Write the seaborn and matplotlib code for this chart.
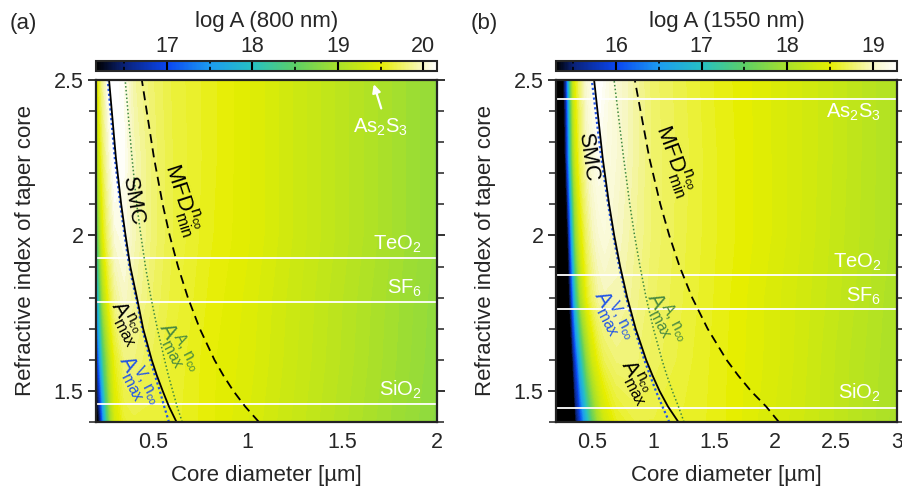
import numpy as np
import matplotlib
matplotlib.use("Agg")
import matplotlib.pyplot as plt
import seaborn as sns
from matplotlib.colors import LinearSegmentedColormap, Normalize
from matplotlib.cm import ScalarMappable
from matplotlib.ticker import MultipleLocator, FormatStrFormatter

sns.set_theme(style="ticks")
plt.rcParams['font.family'] = ['Liberation Sans', 'DejaVu Sans']
plt.rcParams['mathtext.fontset'] = 'custom'
plt.rcParams['mathtext.rm'] = 'Liberation Sans'
plt.rcParams['mathtext.it'] = 'Liberation Sans'
plt.rcParams['mathtext.bf'] = 'Liberation Sans'
plt.rcParams['mathtext.default'] = 'regular'

# ---------------- data ----------------
# refractive index rows at which log A was read
n_rows = [1.4, 1.6, 1.8, 2.0, 2.25, 2.5]

# (a) 800 nm
d_800 = [0.2, 0.21, 0.22, 0.23, 0.24, 0.26, 0.28, 0.3, 0.35, 0.4, 0.5, 0.6, 0.8, 1.0, 1.25, 1.5, 1.75, 2.0]
loga_800_n140 = [15.9, 16.1, 16.4, 16.9, 17.5, 18.4, 19.0, 19.35, 19.6, 19.65, 19.65, 19.6, 19.5, 19.4, 19.25, 19.1, 18.95, 18.8]
loga_800_n160 = [16.6, 17.0, 17.5, 18.0, 18.4, 18.9, 19.3, 19.55, 19.8, 19.8, 19.7, 19.62, 19.5, 19.42, 19.27, 19.12, 18.97, 18.82]
loga_800_n180 = [17.4, 17.9, 18.4, 18.8, 19.1, 19.45, 19.7, 19.85, 20.0, 19.9, 19.75, 19.65, 19.52, 19.43, 19.28, 19.13, 18.98, 18.83]
loga_800_n200 = [18.0, 18.6, 19.0, 19.3, 19.5, 19.75, 19.9, 20.05, 20.1, 19.95, 19.78, 19.67, 19.54, 19.45, 19.3, 19.15, 19.0, 18.85]
loga_800_n225 = [18.7, 19.1, 19.4, 19.6, 19.75, 19.95, 20.1, 20.2, 20.12, 19.95, 19.78, 19.67, 19.55, 19.45, 19.3, 19.15, 19.0, 18.85]
loga_800_n250 = [19.3, 19.5, 19.65, 19.8, 19.9, 20.1, 20.2, 20.2, 20.1, 19.9, 19.76, 19.66, 19.55, 19.45, 19.3, 19.15, 19.0, 18.85]

# (b) 1550 nm
d_1550 = [0.2, 0.26, 0.28, 0.3, 0.32, 0.34, 0.36, 0.4, 0.45, 0.5, 0.55, 0.6, 0.7, 0.85, 1.0, 1.25, 1.5, 2.0, 2.5, 3.0]
loga_1550_n140 = [14.0, 14.3, 14.5, 14.7, 14.9, 15.1, 15.3, 15.9, 16.8, 17.5, 18.0, 18.3, 18.55, 18.65, 18.65, 18.6, 18.55, 18.38, 18.2, 18.0]
loga_1550_n160 = [14.2, 14.6, 14.8, 15.0, 15.2, 15.4, 15.9, 16.9, 17.8, 18.3, 18.55, 18.7, 18.8, 18.8, 18.72, 18.63, 18.55, 18.4, 18.2, 18.02]
loga_1550_n180 = [14.4, 14.8, 15.0, 15.2, 15.5, 16.3, 17.1, 18.0, 18.5, 18.75, 18.9, 18.95, 18.95, 18.85, 18.75, 18.65, 18.56, 18.4, 18.22, 18.03]
loga_1550_n200 = [14.6, 15.0, 15.2, 15.4, 16.2, 17.1, 17.8, 18.4, 18.75, 18.95, 19.05, 19.1, 19.0, 18.88, 18.77, 18.66, 18.57, 18.42, 18.23, 18.05]
loga_1550_n225 = [14.8, 15.2, 15.4, 16.2, 17.2, 17.9, 18.3, 18.7, 18.95, 19.1, 19.2, 19.15, 19.05, 18.9, 18.77, 18.67, 18.57, 18.42, 18.24, 18.05]
loga_1550_n250 = [15.0, 15.3, 15.6, 16.6, 17.6, 18.2, 18.5, 18.8, 19.05, 19.2, 19.3, 19.2, 19.05, 18.9, 18.76, 18.66, 18.56, 18.42, 18.24, 18.05]

# curves: core diameter at given refractive index
n_curve = [1.4, 1.45, 1.5, 1.55, 1.6, 1.7, 1.8, 1.9, 2.0, 2.1, 2.25, 2.5]
smc_800 = [0.625, 0.585, 0.552, 0.521, 0.494, 0.449, 0.416, 0.381, 0.356, 0.333, 0.305, 0.269]
amax_v_800 = [0.585, 0.56, 0.537, 0.511, 0.486, 0.444, 0.411, 0.376, 0.351, 0.328, 0.299, 0.262]
amax_a_800 = [0.655, 0.628, 0.605, 0.582, 0.562, 0.524, 0.49, 0.461, 0.437, 0.415, 0.39, 0.354]
mfd_800 = [1.06, 0.987, 0.925, 0.872, 0.825, 0.748, 0.685, 0.633, 0.589, 0.552, 0.506, 0.442]

smc_1550 = [1.205, 1.119, 1.05, 0.992, 0.94, 0.854, 0.785, 0.727, 0.678, 0.636, 0.583, 0.513]
amax_v_1550 = [1.13, 1.074, 1.02, 0.972, 0.925, 0.844, 0.777, 0.719, 0.67, 0.628, 0.571, 0.494]
amax_a_1550 = [1.251, 1.205, 1.155, 1.11, 1.07, 1.0, 0.94, 0.89, 0.845, 0.806, 0.755, 0.677]
mfd_1550 = [2.03, 1.925, 1.80, 1.695, 1.60, 1.445, 1.318, 1.215, 1.13, 1.057, 0.966, 0.847]

# material refractive indices (white lines)
materials = ['As$_2$S$_3$', 'TeO$_2$', 'SF$_6$', 'SiO$_2$']
n_mat_800 = [2.62, 1.927, 1.787, 1.458]
n_mat_1550 = [2.438, 1.872, 1.763, 1.446]

# colour scale
cb_levels_800 = [16.17, 16.5, 17, 17.5, 18, 18.5, 19, 19.5, 20, 20.16]
cb_levels_1550 = [15.3, 15.5, 16, 16.5, 17, 17.5, 18, 18.5, 19, 19.28]
cb_colors = ['#000000', '#0a2278', '#0a46f0', '#1c9cf0', '#26c0c4', '#5ccf66',
             '#a8e02a', '#e6ee00', '#f7f7c4', '#ffffff']
cb_ticks_800 = [17, 18, 19, 20]
cb_ticks_1550 = [16, 17, 18, 19]

W, H = 902, 487
FS = 15.5
fig = plt.figure(figsize=(W / 100, H / 100), dpi=100)


def make_cmap(levels):
    lo, hi = levels[0], levels[-1]
    pos = [(v - lo) / (hi - lo) for v in levels]
    cmap = LinearSegmentedColormap.from_list('la', list(zip(pos, cb_colors)))
    cmap.set_under('#000000')
    cmap.set_over('#ffffff')
    return cmap


def panel(left_px, d, rows, levels, ticks, title, xmax, xticks,
          smc, av, aa, mfd, n_mat, txt):
    ax = fig.add_axes([left_px / W, (H - 422) / H, 341 / W, 342 / H])
    cax = fig.add_axes([left_px / W, (H - 71) / H, 341 / W, 10 / H])
    cmap = make_cmap(levels)
    lo, hi = levels[0], levels[-1]

    Z = np.array(rows)
    ax.contourf(d, n_rows, Z, levels=np.linspace(lo, hi, 90), cmap=cmap, extend='both')

    for nm in n_mat:
        ax.axhline(nm, color='white', lw=1.3)

    sns.lineplot(x=av, y=n_curve, sort=False, estimator=None, ax=ax,
                 color='#2255e6', lw=1.6, linestyle=(0, (1, 1.2)))
    sns.lineplot(x=smc, y=n_curve, sort=False, estimator=None, ax=ax,
                 color='black', lw=1.3)
    sns.lineplot(x=aa, y=n_curve, sort=False, estimator=None, ax=ax,
                 color='#3f8a3f', lw=1.1, linestyle=(0, (1, 1.5)))
    sns.lineplot(x=mfd, y=n_curve, sort=False, estimator=None, ax=ax,
                 color='black', lw=1.3, linestyle=(0, (5, 3)))

    ax.set_xlim(0.2, xmax)
    ax.set_ylim(1.4, 2.5)
    ax.set_xticks(xticks)
    ax.set_yticks([1.5, 2, 2.5])
    ax.xaxis.set_major_formatter(FormatStrFormatter('%g'))
    ax.yaxis.set_major_formatter(FormatStrFormatter('%g'))
    ax.yaxis.set_minor_locator(MultipleLocator(0.1))
    ax.tick_params(axis='x', which='major', direction='in', top=True, bottom=True,
                   length=7, width=1.3, labelsize=FS, pad=7, color='#222222')
    ax.tick_params(axis='y', which='major', direction='out', left=True, right=True,
                   length=6, width=1.3, labelsize=FS, pad=3, color='#222222')
    ax.tick_params(axis='y', which='minor', direction='out', left=True, right=True,
                   length=5, width=1.1, color='#222222')
    for s in ax.spines.values():
        s.set_linewidth(1.6)
        s.set_color('#222222')
    ax.set_xlabel('Core diameter [\u00b5m]', fontsize=16, labelpad=9)
    ax.set_ylabel('Refractive index of taper core', fontsize=16, labelpad=13)

    # colour bar
    sm = ScalarMappable(norm=Normalize(lo, hi), cmap=cmap)
    cb = fig.colorbar(sm, cax=cax, orientation='horizontal')
    cb.set_ticks(ticks)
    cax.xaxis.set_ticks_position('top')
    cax.tick_params(length=0, pad=3, labelsize=FS)
    cb.outline.set_linewidth(1.5)
    for v in np.arange(np.ceil(lo * 2) / 2, hi, 0.5):
        if float(v).is_integer():
            cax.axvline(v, color='black', lw=1.5)
        else:
            cax.axvline(v, color='black', lw=1.2, ls=(0, (2.5, 2)))
    fig.text((left_px + 170.5) / W, 1 - 21 / H, title, fontsize=16,
             ha='center', va='center')

    for s, x, y, rot, col in txt:
        ax.text(x, y, s, rotation=rot, color=col, fontsize=16,
                ha='center', va='center', rotation_mode='anchor')
    return ax


A_nco = 'A$^{n_{co}}_{max}$'
A_v = 'A$^{V,\\,n_{co}}_{max}$'
A_a = 'A$^{A,\\,n_{co}}_{max}$'
MFD = 'MFD$^{n_{co}}_{min}$'

ax_a = panel(96, d_800,
             [loga_800_n140, loga_800_n160, loga_800_n180, loga_800_n200, loga_800_n225, loga_800_n250],
             cb_levels_800, cb_ticks_800, 'log A (800 nm)', 2.0, [0.5, 1, 1.5, 2],
             smc_800, amax_v_800, amax_a_800, mfd_800, n_mat_800,
             [('SMC', 0.395, 2.11, -80, 'black'),
              (MFD, 0.655, 2.115, -72, 'black'),
              (A_nco, 0.362, 1.72, -62, 'black'),
              (A_v, 0.418, 1.53, -62, '#2255e6'),
              (A_a, 0.628, 1.637, -62, '#4a8a40')])
ax_b = panel(556, d_1550,
             [loga_1550_n140, loga_1550_n160, loga_1550_n180, loga_1550_n200, loga_1550_n225, loga_1550_n250],
             cb_levels_1550, cb_ticks_1550, 'log A (1550 nm)', 3.0, [0.5, 1, 1.5, 2, 2.5, 3],
             smc_1550, amax_v_1550, amax_a_1550, mfd_1550, n_mat_1550,
             [('SMC', 0.46, 2.25, -82, 'black'),
              (MFD, 1.17, 2.24, -70, 'black'),
              (A_nco, 0.856, 1.53, -62, 'black'),
              (A_v, 0.665, 1.74, -62, '#2255e6'),
              (A_a, 1.10, 1.733, -62, '#4a8a40')])

# material labels
for lab, y in zip(materials[1:], [1.97, 1.829, 1.504]):
    ax_a.text(1.92, y, lab, color='white', fontsize=14.5, ha='right', va='center')
ax_a.text(1.70, 2.347, materials[0], color='white', fontsize=14.5, ha='center', va='center')
ax_a.annotate('', xy=(1.662, 2.495), xytext=(1.71, 2.40),
              arrowprops=dict(arrowstyle='-|>', color='white', lw=1.6, mutation_scale=12))
for lab, y in zip(materials, [2.395, 1.915, 1.804, 1.494]):
    ax_b.text(2.87, y, lab, color='white', fontsize=14.5, ha='right', va='center')

fig.text(10 / W, 1 - 24 / H, '(a)', fontsize=16, ha='left', va='center')
fig.text(471 / W, 1 - 24 / H, '(b)', fontsize=16, ha='left', va='center')

fig.savefig('out.png', dpi=100)
